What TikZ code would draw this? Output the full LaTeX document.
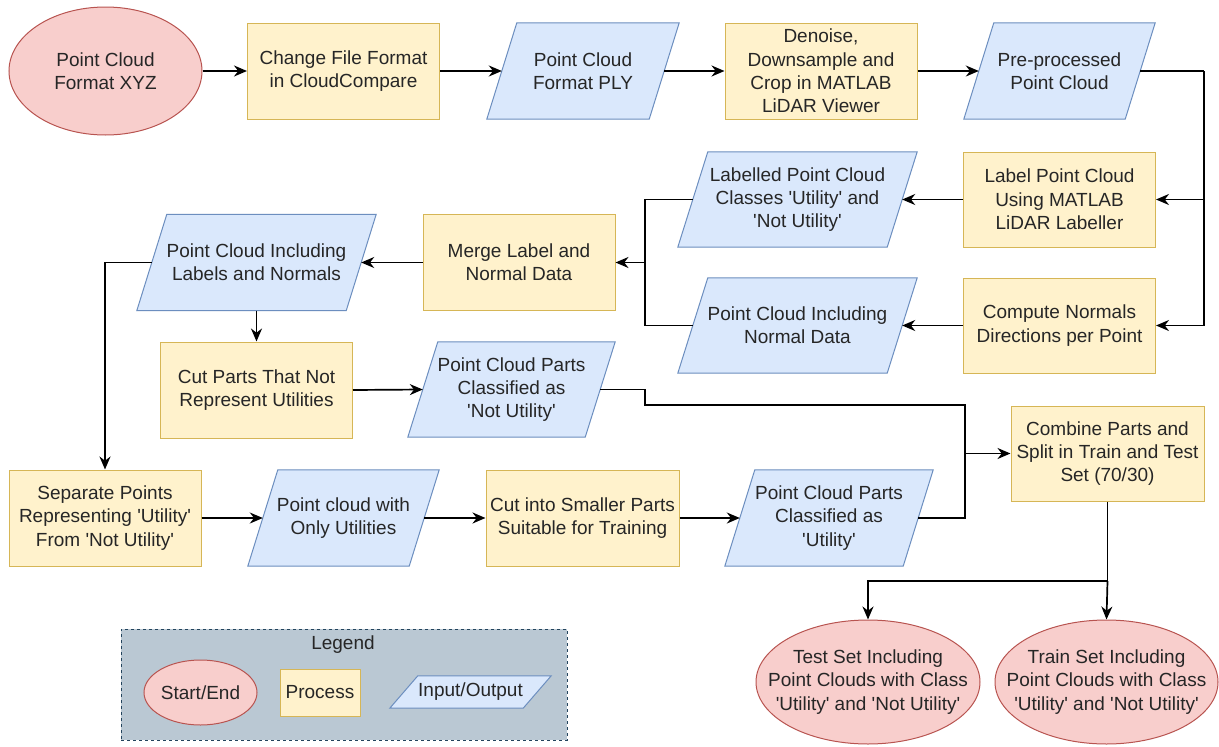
\documentclass[tikz,border=0pt]{standalone}
\usepackage{fontspec}
\setmainfont{Liberation Sans}[Ligatures=TeXOff]
\usetikzlibrary{shapes.geometric,arrows.meta,calc,backgrounds}

\definecolor{procfill}{HTML}{FFF2CC}
\definecolor{procdraw}{HTML}{D6B656}
\definecolor{iofill}{HTML}{DAE8FC}
\definecolor{iodraw}{HTML}{6C8EBF}
\definecolor{termfill}{HTML}{F8CECC}
\definecolor{termdraw}{HTML}{B85450}
\definecolor{legfill}{HTML}{BAC8D3}
\definecolor{legdraw}{HTML}{23445D}
\definecolor{txt}{HTML}{262626}

\tikzset{
  base/.style={font=\fontsize{19}{23.3}\selectfont, text=txt, align=center, inner sep=0pt},
  proc/.style={base, rectangle, draw=procdraw, fill=procfill, line width=1pt,
               minimum width=192pt, minimum height=96pt},
  term/.style={base, ellipse, draw=termdraw, fill=termfill, line width=1pt},
  iobody/.style={base, rectangle, minimum height=96pt},
  iosh/.style={draw=iodraw, fill=iofill, line width=1pt, line join=miter},
  legbox/.style={rectangle, draw=legdraw, fill=legfill, line width=1pt,
                 dash pattern=on 3pt off 3pt},
  flow/.style={line width=1.7pt, -{Stealth[length=13pt,width=11pt]}},
  wire/.style={line width=1.7pt},
}

% parallelogram drawn around a body node, top edge shifted right by #2
\newcommand\iopara[2]{%
  \filldraw[iosh] ($(#1.south west)+(-#2,0)$) -- ($(#1.south east)+(-#2,0)$)
    -- ($(#1.north east)+(#2,0)$) -- ($(#1.north west)+(#2,0)$) -- cycle;}

\begin{document}
\begin{tikzpicture}[x=1pt,y=-1pt]
\useasboundingbox (0,0) rectangle (1219,747);

% row 1
\node[term, minimum width=193pt, minimum height=128pt] (xyz) at (105.5,71) {Point Cloud\\Format XYZ};
\node[proc] (change) at (343.5,71) {Change File Format\\in CloudCompare};
\node[iobody, minimum width=162pt] (ply) at (583,71) {Point Cloud\\Format PLY};
\node[proc] (denoise) at (821,71) {Denoise,\\Downsample and\\Crop in MATLAB\\LiDAR Viewer};
\node[iobody, minimum width=161pt] (pre) at (1059.5,71) {Pre-processed\\Point Cloud};

% labelling and normals
\node[proc, minimum height=95pt] (label) at (1059.5,199.5) {Label Point Cloud\\Using MATLAB\\LiDAR Labeller};
\node[iobody, minimum width=209pt, minimum height=95pt] (labelled) at (797.5,199.5) {Labelled Point Cloud\\Classes 'Utility' and\\'Not Utility'};
\node[proc, minimum height=95pt] (compute) at (1059.5,325.5) {Compute Normals\\Directions per Point};
\node[iobody, minimum width=209pt, minimum height=95pt] (normal) at (797.5,325.5) {Point Cloud Including\\Normal Data};
\node[proc] (merge) at (519,262.5) {Merge Label and\\Normal Data};
\node[iobody, minimum width=209pt] (labnorm) at (256.5,262.5) {Point Cloud Including\\Labels and Normals};
\node[proc] (cut) at (256.5,390) {Cut Parts That Not\\Represent Utilities};
\node[iobody, minimum width=177pt, minimum height=95pt] (notutil) at (511.5,389.5) {Point Cloud Parts\\Classified as\\'Not Utility'};
\node[proc, minimum width=193pt, minimum height=95pt] (combine) at (1107.5,453.5) {Combine Parts and\\Split in Train and Test\\Set (70/30)};

% row 5
\node[proc] (separate) at (105,518) {Separate Points\\Representing 'Utility'\\From 'Not Utility'};
\node[iobody, minimum width=161pt] (onlyutil) at (343.5,518) {Point cloud with\\Only Utilities};
\node[proc, minimum width=193pt] (cutinto) at (582.5,518) {Cut into Smaller Parts\\Suitable for Training};
\node[iobody, minimum width=178pt] (utility) at (829,518) {Point Cloud Parts\\Classified as\\'Utility'};

% results
\node[term, minimum width=224pt, minimum height=124pt, inner xsep=-25pt] (test) at (868,682) {Test Set Including\\Point Clouds with Class\\'Utility' and 'Not Utility'};
\node[term, minimum width=223pt, minimum height=124pt, inner xsep=-25pt] (train) at (1106.5,682) {Train Set Including\\Point Clouds with Class\\'Utility' and 'Not Utility'};

% legend contents
\node[base] (legtitle) at (343,645) {Legend};
\node[term, minimum width=113pt, minimum height=65pt] (legterm) at (200.5,692.5) {Start/End};
\node[proc, minimum width=80pt, minimum height=47pt] (legproc) at (320,692.5) {Process};
\node[iobody, minimum width=133pt, minimum height=32pt] (legio) at (470.5,692) {Input/Output};

% backgrounds, legend frame and input/output shapes
\begin{scope}[on background layer]
  \fill[white] (0,0) rectangle (1219,747);
  \node[legbox, minimum width=446pt, minimum height=111pt] (legend) at (344,684.5) {};
  \foreach \n in {ply,pre,labelled,normal,labnorm,notutil,onlyutil,utility}
    {\iopara{\n}{15}}
  \iopara{legio}{14}
\end{scope}

% junction points
\coordinate (busR) at (1204,71);
\coordinate (busM) at (645,262.5);
\coordinate (nuBend) at (645,405);
\coordinate (busC) at (965,453.5);
\coordinate (split) at (1107.5,581);

% connectors
\draw[flow] (xyz.east) -- (change.west);
\draw[flow] (change.east) -- (ply.west);
\draw[flow] (ply.east) -- (denoise.west);
\draw[flow] (denoise.east) -- (pre.west);
\draw[wire] (pre.east) -- (busR);
\draw[flow] (busR) |- (label.east);
\draw[flow] (busR) |- (compute.east);
\draw[flow] (label.west) -- (labelled.east);
\draw[flow] (compute.west) -- (normal.east);
\draw[wire] (labelled.west) -| (busM) |- (normal.west);
\draw[flow] (busM) -- (merge.east);
\draw[flow] (merge.west) -- (labnorm.east);
\draw[flow] (labnorm.south) -- (cut.north);
\draw[flow] (labnorm.west) -| (separate.north);
\draw[flow] (cut.east) -- (notutil.west);
\draw[wire] (notutil.east) -| (nuBend) -| (busC);
\draw[wire] (utility.east) -| (busC);
\draw[flow] (busC) -- (combine.west);
\draw[flow] (separate.east) -- (onlyutil.west);
\draw[flow] (onlyutil.east) -- (cutinto.west);
\draw[flow] (cutinto.east) -- (utility.west);
\draw[wire] (combine.south) -- (split);
\draw[flow] (split) -- (train.north);
\draw[flow] (split) -| (test.north);
\end{tikzpicture}
\end{document}
